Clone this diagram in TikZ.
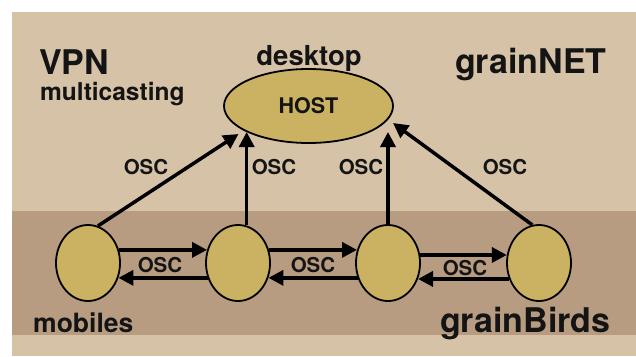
\documentclass[tikz,border=0pt]{standalone}
\usepackage{fontspec}
\setmainfont{TeX Gyre Heros}
\usetikzlibrary{shapes.geometric,arrows.meta,calc}
\definecolor{sand}{HTML}{D5C2A7}
\definecolor{band}{HTML}{B79C82}
\definecolor{ochre}{HTML}{CBB262}
\definecolor{ink}{HTML}{141414}
\begin{document}
\begin{tikzpicture}[x=1pt,y=-1pt,
  bird/.style={ellipse,draw=black,line width=1.8pt,fill=ochre,
    minimum width=64pt,minimum height=76pt,inner sep=0pt},
  hostnode/.style={ellipse,draw=black,line width=1.8pt,fill=ochre,
    minimum width=169pt,minimum height=74pt,inner sep=0pt,
    text=ink,font=\fontsize{21.5}{21}\selectfont\bfseries},
  osc/.style={line width=3.5pt,draw=black,
    -{Triangle[length=15pt,width=15pt]}},
  lab/.style={inner sep=0pt,text=ink},
  osclab/.style={lab,font=\fontsize{20.5}{20}\selectfont\bfseries},
  big/.style={lab,anchor=base west,font=\fontsize{34}{34}\selectfont\bfseries},
  mid/.style={lab,anchor=base west,font=\fontsize{26.5}{26}\selectfont\bfseries}]
\useasboundingbox (0,0) rectangle (636,356);
% backdrop: white margin, sand field, darker band for the mobiles
\fill[white] (0,0) rectangle (636,356);
\fill[sand] (12,12) rectangle (636,356);
\fill[band] (12,211) rectangle (636,335);

% nodes
\node[hostnode] (host) at (308.5,106) {HOST};
\node[bird] (m1) at (88,263) {};
\node[bird] (m2) at (238,263) {};
\node[bird] (m3) at (388,263) {};
\node[bird] (m4) at (539,263) {};

% titles
\node[big] (vpn) at (39,74) {VPN};
\node[lab,anchor=base west,font=\fontsize{24.5}{24}\selectfont\bfseries] (multi) at (40,100) {multicasting};
\node[lab,anchor=base,font=\fontsize{27.5}{27}\selectfont\bfseries] (desk) at (309,65) {desktop};
\node[big] (gnet) at (455,73) {grainNET};
\node[mid] (mob) at (33,332) {mobiles};
\node[big] (gbirds) at (440,332) {grainBirds};

% uplinks to the host
\draw[osc] (m1.75) -- ($(host.center)+(-70,28)$);
\draw[osc] (m2.77) -- (m2.77 |- {$(host.center)+(0,26)$});
\draw[osc] (m3.north) -- (m3.north |- {$(host.center)+(0,26)$});
\draw[osc] (m4.100) -- ($(host.center)+(84.5,17)$);

% links between neighbouring mobiles
\draw[osc] (m1.23) -- (m2.157);
\draw[osc] (m2.206) -- (m1.334);
\draw[osc] (m2.23) -- (m3.157);
\draw[osc] (m3.206) -- (m2.334);
\draw[osc] (m3.14) -- (m4.166);
\draw[osc] (m4.208) -- (m3.332);

% link labels
\node[osclab] (o1) at (146,167) {OSC};
\node[osclab] (o2) at (274,167) {OSC};
\node[osclab] (o3) at (361,167) {OSC};
\node[osclab] (o4) at (505,167) {OSC};
\node[osclab] (o5) at (160,265) {OSC};
\node[osclab] (o6) at (313,265) {OSC};
\node[osclab] (o7) at (465,268) {OSC};
\end{tikzpicture}
\end{document}
